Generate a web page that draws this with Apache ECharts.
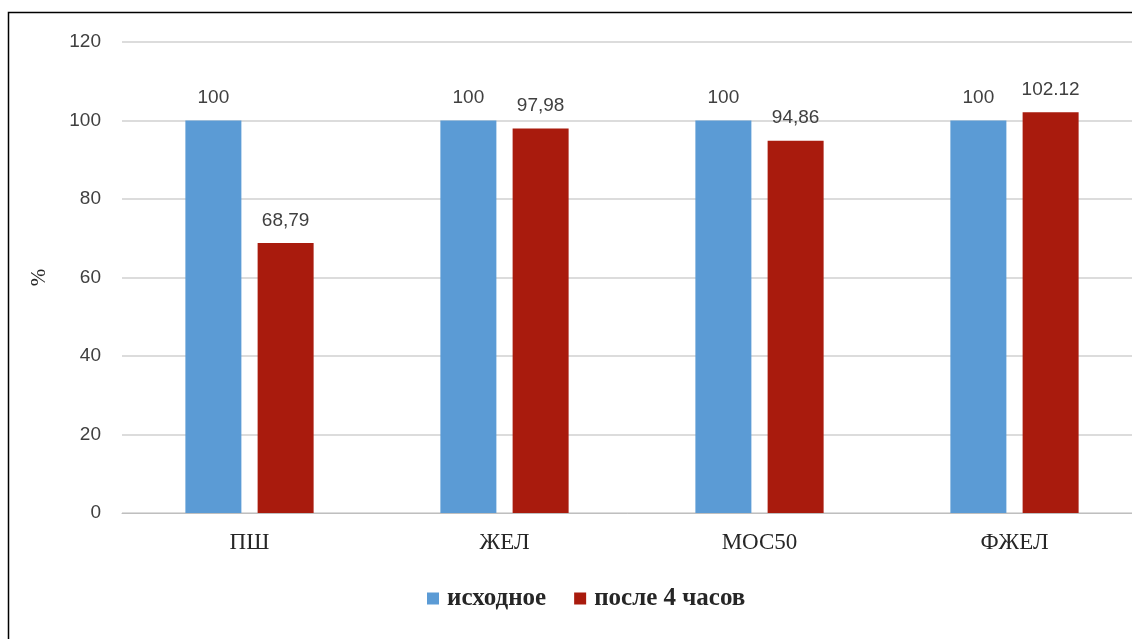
<!DOCTYPE html>
<html>
<head>
<meta charset="utf-8">
<script src="https://cdn.jsdelivr.net/npm/echarts@6/dist/echarts.min.js"></script>
<style>
html,body{margin:0;padding:0;background:#fff;}
#chart{width:1132px;height:639px;}
</style>
</head>
<body>
<div id="chart"></div>
<script>
const categories = ['ПШ', 'ЖЕЛ', 'МОС50', 'ФЖЕЛ'];
const seriesNames = ['исходное', 'после 4 часов'];
const valuesInitial = [100, 100, 100, 100];
const valuesAfter = [68.79, 97.98, 94.86, 102.12];
const labelsInitial = ['100', '100', '100', '100'];
const labelsAfter = ['68,79', '97,98', '94,86', '102.12'];

const chart = echarts.init(document.getElementById('chart'));
const labelStyle = {
  show: true,
  position: 'top',
  distance: 13,
  fontFamily: 'Liberation Sans',
  fontSize: 19,
  color: '#404040'
};
chart.setOption({
  animation: false,
  graphic: [{
    type: 'rect',
    shape: {x: 8.5, y: 12.5, width: 1300, height: 800},
    style: {fill: 'none', stroke: '#000', lineWidth: 1.5},
    silent: true
  }],
  legend: {
    data: seriesNames,
    bottom: 23,
    left: 422,
    itemWidth: 12,
    itemHeight: 12,
    itemGap: 28,
    icon: 'rect',
    textStyle: {fontFamily: 'Liberation Serif', fontSize: 25, fontWeight: 'bold', color: '#262626', padding: [0, 0, 0, 3]}
  },
  grid: {left: 122, width: 1020, top: 42, bottom: 126, containLabel: false, outerBoundsMode: 'none'},
  xAxis: {
    type: 'category',
    data: categories,
    axisLine: {lineStyle: {color: '#bfbfbf', width: 1}},
    axisTick: {show: false},
    axisLabel: {fontFamily: 'Liberation Serif', fontSize: 23, color: '#262626', margin: 18}
  },
  yAxis: {
    type: 'value',
    min: 0,
    max: 120,
    interval: 20,
    name: '%',
    nameLocation: 'middle',
    nameRotate: 90,
    nameGap: 72,
    nameTextStyle: {fontFamily: 'Liberation Serif', fontSize: 21, color: '#262626'},
    axisLine: {show: false},
    axisTick: {show: false},
    axisLabel: {fontFamily: 'Liberation Sans', fontSize: 19, color: '#404040', margin: 21},
    splitLine: {lineStyle: {color: '#d0d0d0', width: 1.5}}
  },
  series: [
    {
      name: seriesNames[0],
      type: 'bar',
      data: valuesInitial,
      barWidth: 56,
      barGap: '29%',
      itemStyle: {color: '#5B9BD5'},
      label: Object.assign({}, labelStyle, {formatter: p => labelsInitial[p.dataIndex]})
    },
    {
      name: seriesNames[1],
      type: 'bar',
      data: valuesAfter,
      barWidth: 56,
      itemStyle: {color: '#A91B0D'},
      label: Object.assign({}, labelStyle, {formatter: p => labelsAfter[p.dataIndex]})
    }
  ]
});
</script>
</body>
</html>
